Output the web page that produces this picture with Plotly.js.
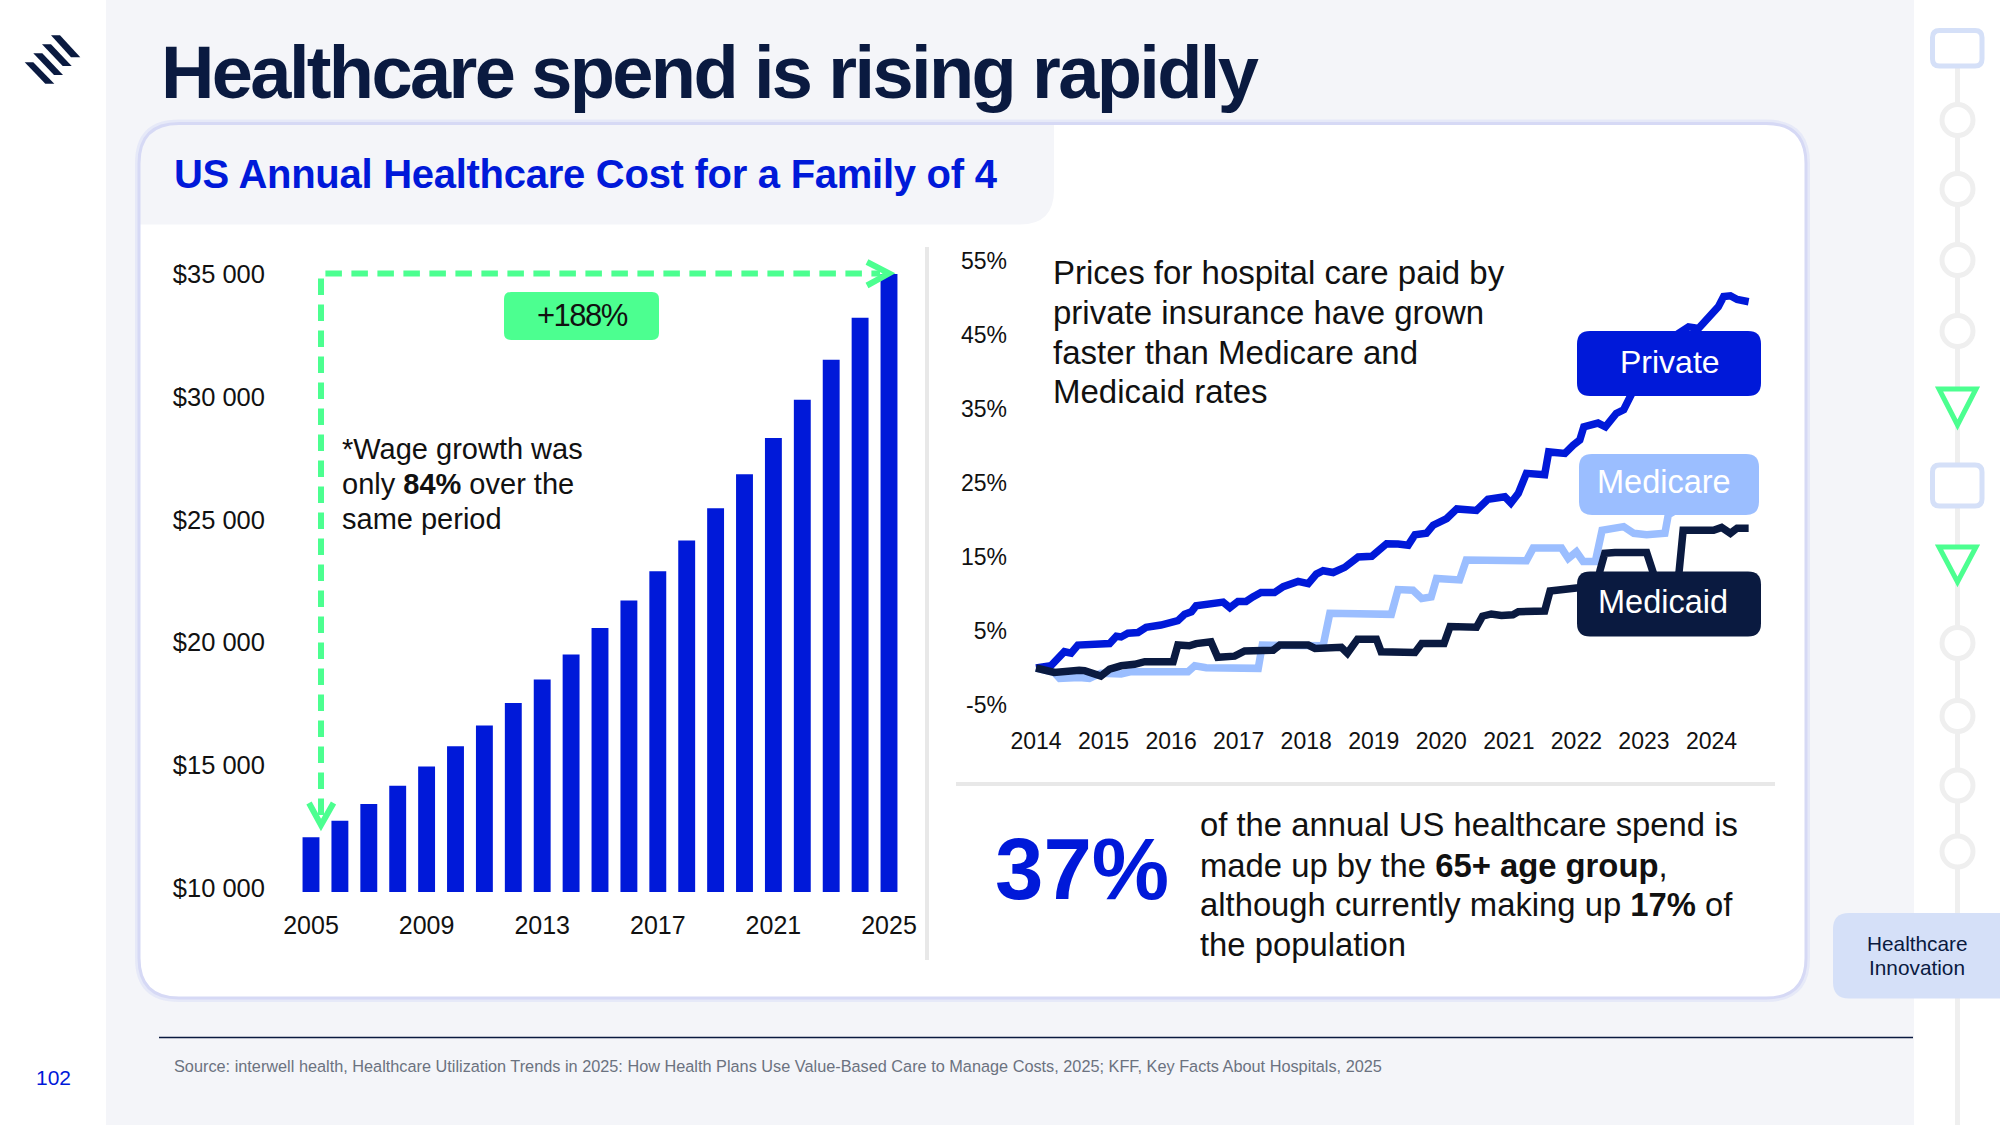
<!DOCTYPE html>
<html>
<head>
<meta charset="utf-8">
<script src="https://cdn.plot.ly/plotly-3.0.1.min.js"></script>
<style>html,body{margin:0;padding:0;background:#fff}#chart{width:2000px;height:1125px}</style>
</head>
<body>
<div id="chart"></div>
<script>
// ---------- bar chart data ----------
const costYears = [2005,2006,2007,2008,2009,2010,2011,2012,2013,2014,2015,2016,2017,2018,2019,2020,2021,2022,2023,2024,2025];
const costValues = [12073,12747,13432,14167,14953,15779,16625,17541,18498,19515,20593,21710,22899,24148,25467,26847,28327,29878,31509,33221,35000];
const costYearTicks = [2005,2009,2013,2017,2021,2025];
const costValueTicks = [10000,15000,20000,25000,30000,35000];
const costValueLabels = ['$10 000','$15 000','$20 000','$25 000','$30 000','$35 000'];

// ---------- line chart data (years after 2014, % growth) ----------
const privateT = [0,0.22,0.42,0.52,0.62,1.09,1.19,1.26,1.36,1.51,1.63,1.85,2.10,2.20,2.30,2.37,2.77,2.87,2.99,3.11,3.21,3.33,3.53,3.66,3.88,4.03,4.15,4.25,4.40,4.57,4.77,4.97,5.19,5.36,5.51,5.61,5.78,5.88,6.08,6.23,6.52,6.69,6.94,7.03,7.14,7.26,7.53,7.59,7.83,7.95,8.05,8.11,8.32,8.43,8.59,8.70,8.82,9.1,9.3,9.51,9.66,9.81,10.10,10.18,10.28,10.38,10.55];
const privateV = [0,0.3,2.2,2.0,3.1,3.3,4.3,4.2,4.7,4.8,5.5,5.8,6.4,7.25,7.6,8.4,8.9,8.15,9.0,9.0,9.6,10.2,10.2,11.0,11.7,11.4,12.7,13.15,12.9,13.6,15.0,15.1,16.8,16.75,16.6,18.0,18.2,19.3,20.2,21.5,21.3,22.8,23.15,22.3,23.6,26.3,26.1,29.2,29.0,30.1,30.8,32.6,33.1,32.6,34.4,34.9,37.1,39,42.5,45.2,46.1,45.9,48.8,50.2,50.3,49.8,49.5];
const medicareT = [0,0.27,0.35,0.64,0.79,0.96,1.26,1.41,2.25,2.35,2.52,3.29,3.35,4.25,4.35,5.26,5.36,5.58,5.71,5.85,5.93,6.27,6.37,7.26,7.36,7.78,7.88,8.0,8.10,8.28,8.38,8.70,8.85,9.04,9.31,9.36,9.6,10.55];
const medicareV = [0,-0.6,-1.4,-1.3,-1.4,-0.7,-0.8,-0.5,-0.5,0.3,0.05,-0.05,3.1,3.0,7.4,7.25,10.6,10.5,9.4,9.6,12.1,11.9,14.6,14.5,16.2,16.2,14.8,15.7,14.4,14.4,18.6,19.1,18.2,18.0,18.2,20.7,22,23];
const medicaidT = [0,0.27,0.64,0.72,0.96,1.09,1.26,1.46,1.61,2.03,2.10,2.27,2.37,2.59,2.69,2.94,3.09,3.51,3.61,4.03,4.13,4.52,4.61,4.76,5.04,5.11,5.61,5.71,6.04,6.13,6.52,6.61,6.74,6.89,7.06,7.14,7.53,7.61,8.0,8.3,8.35,8.42,8.57,9.04,9.14,9.2,9.45,9.52,9.58,10.03,10.15,10.28,10.38,10.55];
const medicaidV = [0,-0.6,-0.3,-0.35,-1.1,-0.15,0.3,0.5,0.85,0.85,3.1,3.0,3.3,3.55,1.45,1.6,2.3,2.4,3.1,3.1,2.65,2.8,2.0,3.9,3.9,2.2,2.1,3.3,3.3,5.6,5.5,7.0,7.3,7.1,7.2,7.6,7.7,10.4,10.8,11,13.2,15.5,15.6,15.6,12.8,11,11,13.0,18.6,18.6,19.0,18.2,18.9,18.9];
const priceYearTicks = [2014,2015,2016,2017,2018,2019,2020,2021,2022,2023,2024];
const pricePctTicks = [-5,5,15,25,35,45,55];
const pricePctLabels = ['-5%','5%','15%','25%','35%','45%','55%'];

// ---------- colours ----------
const BLUE='#0019D9', LIGHT='#9BBEFF', NAVY='#0A1A40', GREEN='#4CFF90', GRAY='#F4F5F9', RAIL='#EFEFEF', PALE='#D5E0F8';
const FONT='"Liberation Sans", Arial, sans-serif';
const W=2000,H=1125;
const fx=x=>(x/W).toFixed(5), fy=y=>(1-y/H).toFixed(5);
const P=(x,y)=>fx(x)+' '+fy(y);
const pathOf=(pts,close)=>'M '+pts.map(p=>P(p[0],p[1])).join(' L ')+(close?' Z':'');
function rr(x0,y0,x1,y1,r){
  return 'M '+P(x0+r,y0)+' L '+P(x1-r,y0)+' Q '+P(x1,y0)+' '+P(x1,y0+r)+' L '+P(x1,y1-r)+' Q '+P(x1,y1)+' '+P(x1-r,y1)+
   ' L '+P(x0+r,y1)+' Q '+P(x0,y1)+' '+P(x0,y1-r)+' L '+P(x0,y0+r)+' Q '+P(x0,y0)+' '+P(x0+r,y0)+' Z';
}
const sh=(path,fill,lc,lw,layer,dash)=>({type:'path',xref:'paper',yref:'paper',path,fillcolor:fill||'rgba(0,0,0,0)',line:{color:lc||'rgba(0,0,0,0)',width:lw||0,dash:dash||'solid'},layer:layer||'below'});
const seg=(x0,y0,x1,y1,c,w,layer)=>sh(pathOf([[x0,y0],[x1,y1]]),null,c,w,layer);
const circ=(cx,cy,r)=>({type:'circle',xref:'paper',yref:'paper',x0:fx(cx-r),x1:fx(cx+r),y0:fy(cy+r),y1:fy(cy-r),fillcolor:'#fff',line:{color:RAIL,width:5},layer:'below'});

const shapes=[
  // panels
  sh(pathOf([[106,0],[1914,0],[1914,1125],[106,1125]],true),GRAY),
  sh(rr(137,121.5,1808,1000,42),'rgba(0,0,0,0)','rgba(200,204,245,0.3)',4),
  sh(rr(139,123.5,1806,998,40),'#fff'),
  sh('M '+P(139,163)+' Q '+P(139,123.5)+' '+P(179,123.5)+' L '+P(1054,123.5)+' L '+P(1054,190)+' Q '+P(1054,224.5)+' '+P(1020,224.5)+' L '+P(139,224.5)+' Z',GRAY),
  sh(rr(139,123.5,1806,998,40),null,'#D6D9F5',3),
  // dividers
  seg(927,247,927,960,'#E8E8E8',4),
  seg(956,784,1775,784,'#E8E8E8',4),
  seg(159,1037.5,1913,1037.5,NAVY,1.5),
  // logo
  sh(pathOf([[24.7,62.3],[33.3,62.3],[54.3,83.7],[45.3,83.7]],true),NAVY),
  sh(pathOf([[33.3,53.3],[42.3,53.3],[63,75],[54,75]],true),NAVY),
  sh(pathOf([[42,44.3],[51,44.3],[71.7,66],[62.7,66]],true),NAVY),
  sh(pathOf([[51,35.3],[60,35.3],[80.3,57.3],[71,57.3]],true),NAVY),
  // right rail
  seg(1957.5,60,1957.5,1125,RAIL,5),
  sh(rr(1932.5,30.5,1982,66,7),'#fff',PALE,5),
  circ(1957.5,120,15.5),circ(1957.5,189,15.5),circ(1957.5,260,15.5),circ(1957.5,331,15.5),
  sh(pathOf([[1939,389],[1976,389],[1957.5,425]],true),'#fff',GREEN,5),
  sh(rr(1932.5,465,1982,506,7),'#fff',PALE,5),
  sh(pathOf([[1939,547],[1976,547],[1957.5,582]],true),'#fff',GREEN,5),
  circ(1957.5,643,15.5),circ(1957.5,716,15.5),circ(1957.5,785.5,15.5),circ(1957.5,851.5,15.5),
  sh('M '+P(2000,913)+' L '+P(1849,913)+' Q '+P(1833,913)+' '+P(1833,929)+' L '+P(1833,982)+' Q '+P(1833,998.5)+' '+P(1849,998.5)+' L '+P(2000,998.5)+' Z',PALE),
  // growth arrow
  sh(pathOf([[321,815],[321,273.4],[880,273.4]]),null,GREEN,6,'above','16.5px,9.5px'),
  sh(pathOf([[309,803],[321,825],[333.5,803]]),null,GREEN,6,'above'),
  sh(pathOf([[867,262],[889,273.4],[867,285.5]]),null,GREEN,6,'above'),
  sh(rr(504,292,659,340,7),GREEN,null,0,'above'),
  // series label boxes
  sh(rr(1577,331,1761,396,13),BLUE,null,0,'above'),
  sh(rr(1579,454,1759,515,13),LIGHT,null,0,'above'),
  sh(rr(1577,571.5,1761,636.5,13),NAVY,null,0,'above')
];

const ann=(text,x,y,size,color,anchor,ls)=>({text:ls?'<span style="letter-spacing:'+ls+'px">'+text+'</span>':text,xref:'paper',yref:'paper',x:x/W,y:1-y/H,xanchor:anchor||'left',yanchor:'middle',showarrow:false,font:{family:FONT,size,color:color||'#111'},borderpad:0,borderwidth:0});
const annotations=[
  ann('<b>Healthcare spend is rising rapidly</b>',161,72,74,NAVY,'left',-2.62),
  ann('<b>US Annual Healthcare Cost for a Family of 4</b>',174,174,40,BLUE,'left',-0.27),
  ann('+188%',582,315,31,'#111','center',-1.5),
  ann('*Wage growth was',342,449,29),
  ann('only <b>84%</b> over the',342,484,29),
  ann('same period',342,519,29),
  ann('Prices for hospital care paid by',1053,272,33),
  ann('private insurance have grown',1053,312,33),
  ann('faster than Medicare and',1053,352,33),
  ann('Medicaid rates',1053,391.5,33),
  ann('Private',1670,362,32,'#fff','center'),
  ann('Medicare',1664,482,32.5,'#fff','center'),
  ann('Medicaid',1663,602,32.5,'#fff','center'),
  ann('<b>37%</b>',1082,868,87,BLUE,'center'),
  ann('of the annual US healthcare spend is',1199.5,825,32.8),
  ann('made up by the <b>65+ age group</b>,',1199.5,865,32.8),
  ann('although currently making up <b>17%</b> of',1199.5,904.5,32.8),
  ann('the population',1199.5,944,32.8),
  ann('Source: interwell health, Healthcare Utilization Trends in 2025: How Health Plans Use Value-Based Care to Manage Costs, 2025; KFF, Key Facts About Hospitals, 2025',174,1066,16.3,'#6B7280'),
  ann('102',53.5,1077,21,BLUE,'center'),
  ann('Healthcare',1917,943,20.8,NAVY,'center'),
  ann('Innovation',1917,967.5,20.8,NAVY,'center')
];

const line=(t,v,c,name)=>({type:'scatter',mode:'lines',name,x:t.map(d=>2014+d),y:v,xaxis:'x2',yaxis:'y2',line:{color:c,width:7.5,shape:'linear',simplify:false},hoverinfo:'skip'});
const data=[
  {type:'bar',x:costYears,y:costValues,marker:{color:BLUE,line:{width:0}},width:0.585,hoverinfo:'skip'},
  line(medicareT,medicareV,LIGHT,'Medicare'),
  line(privateT,privateV,BLUE,'Private'),
  line(medicaidT,medicaidV,NAVY,'Medicaid')
];
const tf=(s)=>({family:FONT,size:s,color:'#111'});
const layout={
  width:W,height:H,margin:{l:0,r:0,t:0,b:0},paper_bgcolor:'#fff',plot_bgcolor:'rgba(0,0,0,0)',showlegend:false,
  xaxis:{domain:[290/W,910/W],range:[2005-21/28.9,2025+21/28.9],tickmode:'array',tickvals:costYearTicks,showgrid:false,zeroline:false,showline:false,ticks:'',tickfont:tf(25),ticklabelstandoff:16,fixedrange:true},
  yaxis:{domain:[1-892/H,1-274/H],range:[9845,35000],tickmode:'array',tickvals:costValueTicks,ticktext:costValueLabels,showgrid:false,zeroline:false,showline:false,ticks:'',tickfont:tf(25.5),ticklabelstandoff:24,fixedrange:true},
  xaxis2:{domain:[1020/W,1760/W],range:[2014-16/67.55,2014+724/67.55],anchor:'y2',tickmode:'array',tickvals:priceYearTicks,showgrid:false,zeroline:false,showline:false,ticks:'',tickfont:tf(23),ticklabelstandoff:20,fixedrange:true},
  yaxis2:{domain:[1-705/H,1-261/H],range:[-5,55],anchor:'x2',tickmode:'array',tickvals:pricePctTicks,ticktext:pricePctLabels,showgrid:false,zeroline:false,showline:false,ticks:'',tickfont:tf(23),ticklabelstandoff:12,fixedrange:true},
  shapes,annotations
};
Plotly.newPlot('chart',data,layout,{displayModeBar:false,staticPlot:true});
</script>
</body>
</html>
